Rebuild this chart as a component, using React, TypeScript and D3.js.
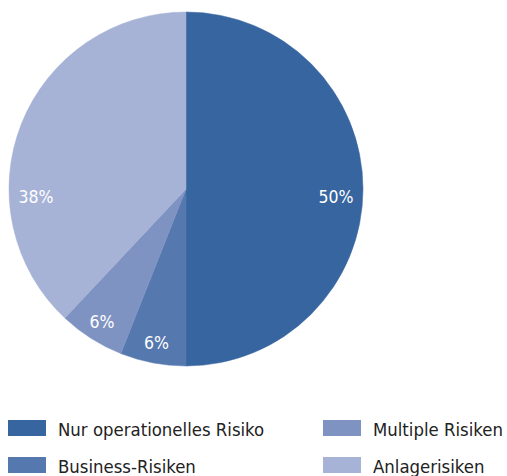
import React from "react";
import * as d3 from "d3";

const categories = ["Nur operationelles Risiko", "Business-Risiken", "Multiple Risiken", "Anlagerisiken"];
const values = [50, 6, 6, 38];
const labels = ["50%", "6%", "6%", "38%"];
const colors = ["#3665a0", "#5578ae", "#7f93c3", "#a6b2d6"];

export default function App() {
  const W = 507, H = 476;
  const cx = 186, cy = 189, r = 177;
  const pie = d3.pie<number>().sort(null).value((d) => d)(values);
  const arc = d3.arc<d3.PieArcDatum<number>>().innerRadius(0).outerRadius(r);
  const font = "'DejaVu Sans Condensed', 'DejaVu Sans', sans-serif";
  const labelPos = (d: d3.PieArcDatum<number>) => {
    let a = (d.startAngle + d.endAngle) / 2;
    const span = d.endAngle - d.startAngle;
    let rr = 157;
    let off = 0;
    if (span > Math.PI * 0.5) {
      a = Math.round(a / (Math.PI / 2)) * (Math.PI / 2);
      rr = 150;
      off = 8;
    }
    return [Math.sin(a) * rr, -Math.cos(a) * rr + off];
  };
  return (
    <svg width={W} height={H} style={{ position: "absolute", left: 0, top: 0, background: "#fff" }}>
      <g transform={`translate(${cx},${cy})`}>
        {pie.map((d, i) => (
          <path key={i} d={arc(d) || ""} fill={colors[i]} stroke={colors[i]} strokeWidth={0.5} />
        ))}
        {pie.map((d, i) => {
          const [x, y] = labelPos(d);
          return (
            <text key={i} x={x} y={y} dy="0.35em" textAnchor="middle" fill="#fff"
              fontFamily={font} fontSize={17.5}>{labels[i]}</text>
          );
        })}
      </g>
      {categories.map((c, k) => {
        const col = Math.floor(k / 2), row = k % 2;
        const x = 8 + col * 315, y = 420 + row * 37;
        return (
          <g key={c}>
            <rect x={x} y={y} width={38} height={16} fill={colors[k]} />
            <text x={x + 50} y={y + 16} fontFamily={font} fontSize={18.4} fill="#222">{c}</text>
          </g>
        );
      })}
    </svg>
  );
}
